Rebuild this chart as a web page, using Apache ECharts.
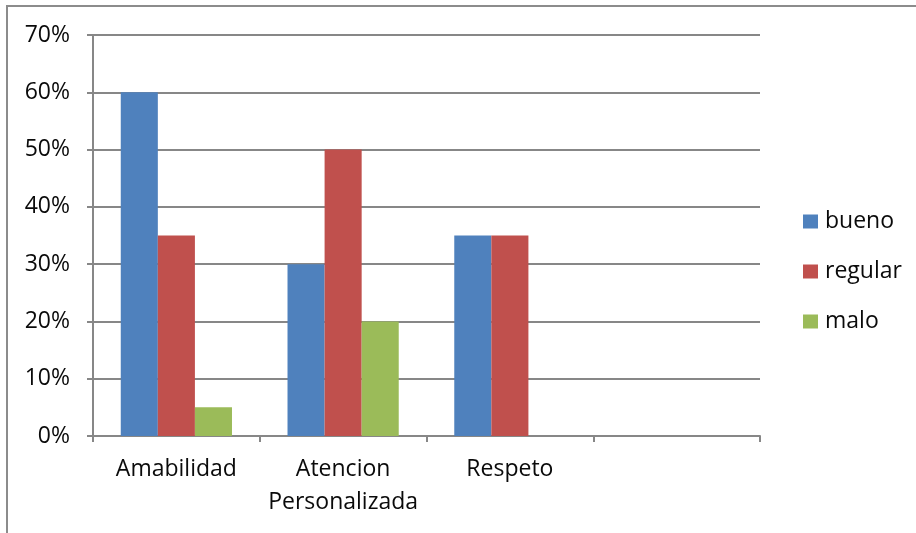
<!DOCTYPE html>
<html>
<head>
<meta charset="utf-8">
<script src="https://cdn.jsdelivr.net/npm/echarts@6/dist/echarts.min.js"></script>
<style>
  html, body { margin: 0; padding: 0; background: #fff; }
  #chart { width: 916px; height: 533px; }
</style>
</head>
<body>
<div id="chart"></div>
<script>
// Categories (the fourth slot is an empty category)
const categories = ['Amabilidad', 'Atencion\nPersonalizada', 'Respeto', ''];
const seriesNames = ['bueno', 'regular', 'malo'];
// Shares per category, in percent
const bueno = [60, 30, 35, null];
const regular = [35, 50, 35, null];
const malo = [5, 20, 0, null];
const yTicks = { min: 0, max: 70, step: 10 };
const colors = ['#4F81BD', '#C0504D', '#9BBB59'];

const FONT = 'Open Sans';
const GRAY = '#878787';

const chart = echarts.init(document.getElementById('chart'), null, { renderer: 'canvas' });

const values = [bueno, regular, malo];
const series = seriesNames.map((name, i) => ({
  name: name,
  type: 'bar',
  data: values[i],
  barGap: '0%',
  barCategoryGap: '33.3%',
  itemStyle: { color: colors[i] },
  emphasis: { disabled: true }
}));

chart.setOption({
  animation: false,
  backgroundColor: '#fff',
  color: colors,
  grid: { left: 93, right: 156, top: 35, bottom: 97, containLabel: false },
  xAxis: {
    type: 'category',
    data: categories,
    boundaryGap: true,
    axisLine: { show: true, lineStyle: { color: GRAY, width: 2 } },
    axisTick: { show: true, alignWithLabel: false, length: 6, interval: 0, lineStyle: { color: GRAY, width: 2 } },
    axisLabel: {
      interval: 0,
      margin: 17,
      color: '#0a0a0a',
      fontFamily: FONT,
      fontSize: 23,
      lineHeight: 33
    },
    splitLine: { show: false }
  },
  yAxis: {
    type: 'value',
    min: yTicks.min,
    max: yTicks.max,
    interval: yTicks.step,
    axisLine: { show: true, lineStyle: { color: GRAY, width: 2 } },
    axisTick: { show: true, length: 6, lineStyle: { color: GRAY, width: 2 } },
    axisLabel: {
      margin: 23,
      color: '#0a0a0a',
      fontFamily: FONT,
      fontSize: 23,
      formatter: v => v + '%'
    },
    splitLine: { show: true, lineStyle: { color: GRAY, width: 2 } }
  },
  legend: {
    orient: 'vertical',
    left: 803,
    top: 207,
    padding: 0,
    itemWidth: 15,
    itemHeight: 14,
    itemGap: 21,
    icon: 'rect',
    textStyle: { color: '#0a0a0a', fontFamily: FONT, fontSize: 23, lineHeight: 29, padding: [0, 0, 0, 2] },
    data: seriesNames
  },
  graphic: [{
    type: 'rect',
    shape: { x: 7, y: 6, width: 1200, height: 1200 },
    style: { fill: 'none', stroke: '#8c8c8c', lineWidth: 2 },
    silent: true
  }],
  series: series
});
</script>
</body>
</html>
